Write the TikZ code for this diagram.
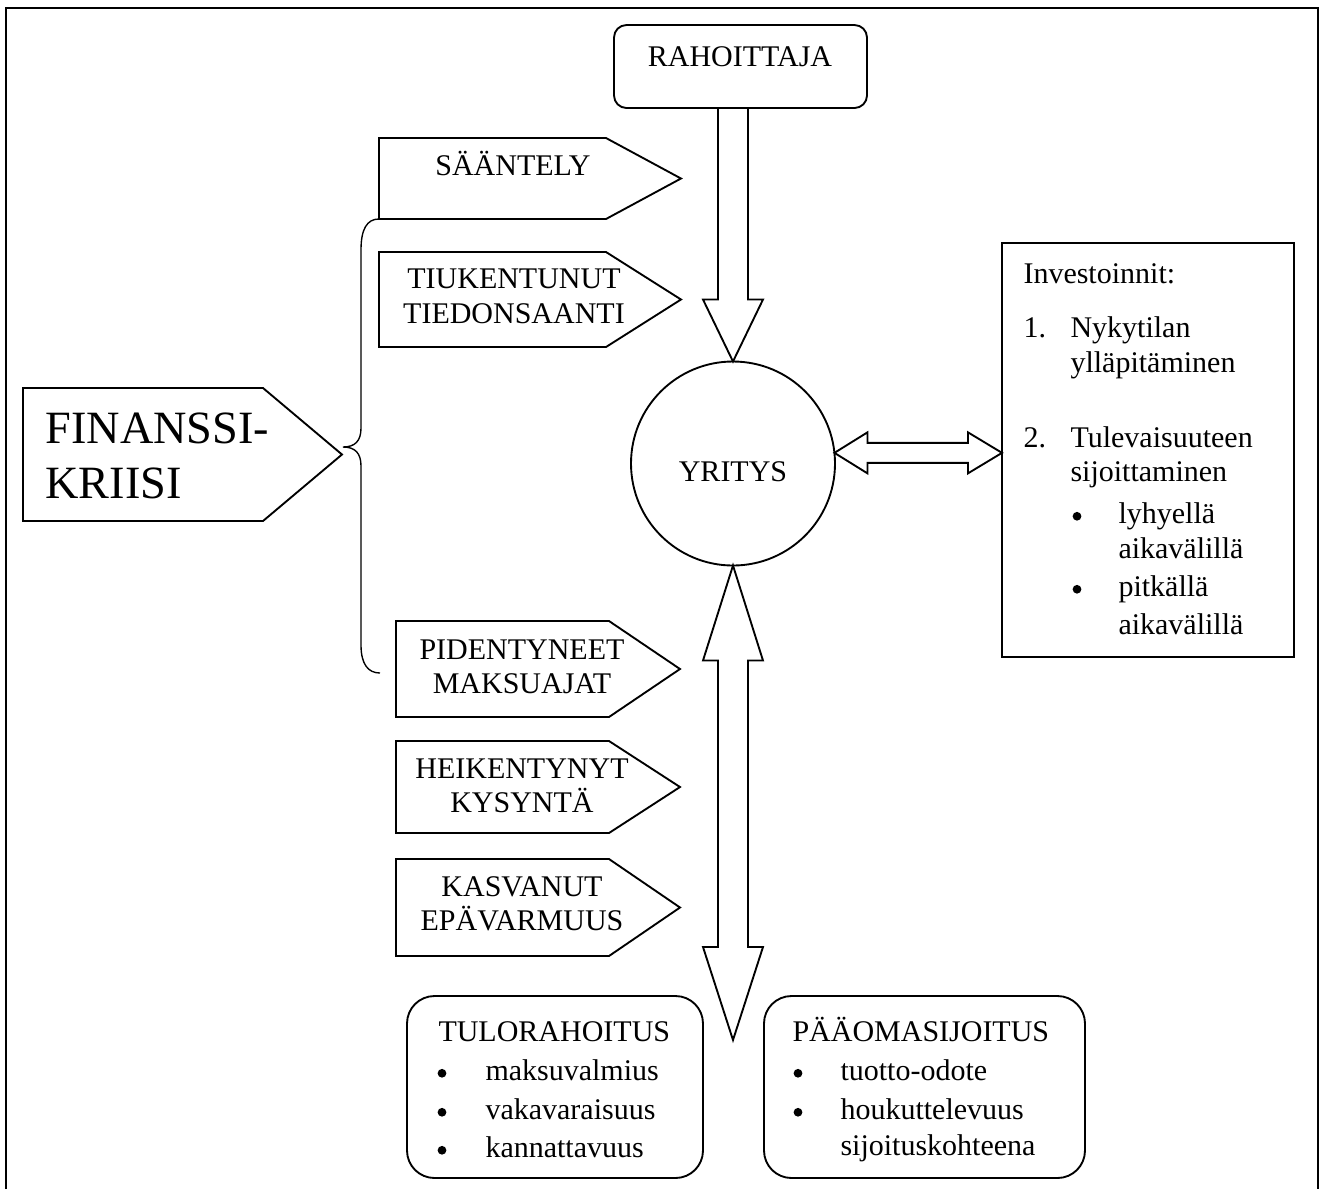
\documentclass[tikz,border=0pt]{standalone}
\usepackage{fontspec}
\setmainfont{Liberation Serif}
\usetikzlibrary{fit,calc}
\begin{document}
\begin{tikzpicture}[x=0.4pt,y=-0.4pt,
  shp/.style={draw=black, line width=0.75pt, line join=miter},
  box/.style={draw=black, line width=0.75pt, inner sep=0pt, outer sep=0pt},
  area/.style={inner sep=0pt, outer sep=0pt},
  txt/.style={inner sep=0pt, anchor=base, font=\fontsize{12}{14}\selectfont},
  txtw/.style={inner sep=0pt, anchor=base west, font=\fontsize{12}{14}\selectfont},
  big/.style={inner sep=0pt, anchor=base west, font=\fontsize{18.5}{22}\selectfont},
  bul/.style={circle, fill=black, inner sep=0pt, minimum size=3.5pt, yshift=2.7pt},
  ]
\useasboundingbox (0,0) rectangle (1320,1189);
% frame
\draw[line width=0.8pt] (6,1189) -- (6,8) -- (1318,8) -- (1318,1189);

% main boxes
\node[box, rounded corners=5pt, fit={(614,25) (867,108)}] (rah) {};
\node[txt] (rahT) at (740,66) {RAHOITTAJA};

\node[box, circle, minimum size=81.6pt] (yr) at (733,463.5) {};
\node[txt] (yrT) at (733,481) {YRITYS};

\node[box, fit={(1002,243) (1294,657)}] (inv) {};
\node[txtw] (inv0) at (1023,283) {Investoinnit:};
\node[txtw] (inv1n) at (1023,337) {1.};
\node[txtw] (inv1a) at (1070,337) {Nykytilan};
\node[txtw] (inv1b) at (1070,372) {ylläpitäminen};
\node[txtw] (inv2n) at (1023,447) {2.};
\node[txtw] (inv2a) at (1070,447) {Tulevaisuuteen};
\node[txtw] (inv2b) at (1070,481) {sijoittaminen};
\node[bul] (invb1) at (1077,523) {};
\node[txtw] (inv3a) at (1118,523) {lyhyellä};
\node[txtw] (inv3b) at (1118,558) {aikavälillä};
\node[bul] (invb2) at (1077,596) {};
\node[txtw] (inv4a) at (1118,596) {pitkällä};
\node[txtw] (inv4b) at (1118,634) {aikavälillä};

\node[box, rounded corners=11pt, fit={(407,996) (703,1178)}] (tulo) {};
\node[txtw] (tulo0) at (438,1041) {TULORAHOITUS};
\node[bul] (tb1) at (442,1080) {};
\node[txtw] (tulo1) at (485,1080) {maksuvalmius};
\node[bul] (tb2) at (442,1119) {};
\node[txtw] (tulo2) at (485,1119) {vakavaraisuus};
\node[bul] (tb3) at (442,1157) {};
\node[txtw] (tulo3) at (485,1157) {kannattavuus};

\node[box, rounded corners=11pt, fit={(764,996) (1085,1178)}] (paa) {};
\node[txtw] (paa0) at (792,1041) {PÄÄOMASIJOITUS};
\node[bul] (pb1) at (798,1080) {};
\node[txtw] (paa1) at (840,1080) {tuotto-odote};
\node[bul] (pb2) at (798,1119) {};
\node[txtw] (paa2) at (840,1119) {houkuttelevuus};
\node[txtw] (paa3) at (840,1155) {sijoituskohteena};

% chevrons
\node[area, fit={(23,388) (263,521)}] (fin) {};
\draw[shp] (fin.north west) -- (fin.north east) -- ($(fin.east)+(79,0)$) -- (fin.south east) -- (fin.south west) -- cycle;
\node[big] (fin1) at (45,443) {FINANSSI-};
\node[big] (fin2) at (45,498) {KRIISI};

\node[area, fit={(379,138) (606,219)}] (saa) {};
\draw[shp] (saa.north west) -- (saa.north east) -- ($(saa.east)+(75,0)$) -- (saa.south east) -- (saa.south west) -- cycle;
\node[txt] (saaT) at (513,175) {SÄÄNTELY};

\node[area, fit={(379,252) (606,347)}] (tiu) {};
\draw[shp] (tiu.north west) -- (tiu.north east) -- ($(tiu.east)+(75,0)$) -- (tiu.south east) -- (tiu.south west) -- cycle;
\node[txt] (tiuA) at (514,288) {TIUKENTUNUT};
\node[txt] (tiuB) at (514,323) {TIEDONSAANTI};

\node[area, fit={(396,621) (609,717)}] (pid) {};
\draw[shp] (pid.north west) -- (pid.north east) -- ($(pid.east)+(71,0)$) -- (pid.south east) -- (pid.south west) -- cycle;
\node[txt] (pidA) at (522,659) {PIDENTYNEET};
\node[txt] (pidB) at (522,693) {MAKSUAJAT};

\node[area, fit={(396,741) (609,833)}] (hei) {};
\draw[shp] (hei.north west) -- (hei.north east) -- ($(hei.east)+(71,0)$) -- (hei.south east) -- (hei.south west) -- cycle;
\node[txt] (heiA) at (522,778) {HEIKENTYNYT};
\node[txt] (heiB) at (522,812) {KYSYNTÄ};

\node[area, fit={(396,859) (609,956)}] (kas) {};
\draw[shp] (kas.north west) -- (kas.north east) -- ($(kas.east)+(71,0)$) -- (kas.south east) -- (kas.south west) -- cycle;
\node[txt] (kasA) at (522,896) {KASVANUT};
\node[txt] (kasB) at (522,930) {EPÄVARMUUS};

% brace
\coordinate (bt) at (343,447);
\coordinate (bend) at ($(pid.west)+(-16,4)$);
\draw[line width=0.55pt] (saa.south west) .. controls (367,219) and (361,229) .. (361,250)
  -- (361,428) .. controls (361,441) and (355,447) .. (bt)
  .. controls (355,447) and (361,453) .. (361,466)
  -- (361,645) .. controls (361,664) and (368,673) .. (bend);

% down block arrow RAHOITTAJA -> YRITYS
\draw[shp] ($(yr.north |- rah.south)+(-15,0)$) -- ($(yr.north)+(-15,-62)$) -- ($(yr.north)+(-30,-62)$)
  -- (yr.north) -- ($(yr.north)+(30,-62)$) -- ($(yr.north)+(15,-62)$) -- ($(yr.north |- rah.south)+(15,0)$);

% vertical double block arrow
\coordinate (vb) at (733,1040);
\draw[shp] (yr.south) -- ($(yr.south)+(30,95)$) -- ($(yr.south)+(15,95)$) -- ($(vb)+(15,-93)$)
  -- ($(vb)+(30,-93)$) -- (vb) -- ($(vb)+(-30,-93)$) -- ($(vb)+(-15,-93)$)
  -- ($(yr.south)+(-15,95)$) -- ($(yr.south)+(-30,95)$) -- cycle;

% horizontal double block arrow
\coordinate (hl) at (yr.6);
\coordinate (hr) at (inv.west |- hl);
\draw[shp] (hl) -- ($(hl)+(33,-20.5)$) -- ($(hl)+(33,-10)$) -- ($(hr)+(-34,-10)$) -- ($(hr)+(-34,-20.5)$)
  -- (hr) -- ($(hr)+(-34,20.5)$) -- ($(hr)+(-34,10)$) -- ($(hl)+(33,10)$) -- ($(hl)+(33,20.5)$) -- cycle;
\end{tikzpicture}
\end{document}
